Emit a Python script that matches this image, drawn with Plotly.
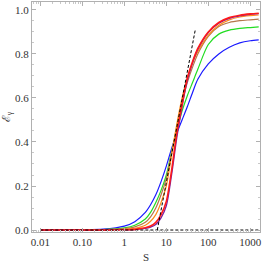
import plotly.graph_objects as go

S = [0.01, 0.0316, 0.1, 0.316, 1, 1.778, 3.162, 4.217, 5.623, 7.499, 10, 13.34,
     17.78, 23.71, 31.62, 42.17, 56.23, 100, 177.8, 316.2, 562.3, 1000, 1585]

blue = [0.000, 0.000, 0.001, 0.004, 0.018, 0.038, 0.080, 0.115, 0.160, 0.220, 0.290, 0.370,
        0.440, 0.500, 0.560, 0.625, 0.685, 0.755, 0.800, 0.830, 0.850, 0.860, 0.864]
green = [0.000, 0.000, 0.0005, 0.002, 0.010, 0.022, 0.050, 0.080, 0.125, 0.180, 0.250, 0.355,
         0.450, 0.540, 0.610, 0.670, 0.730, 0.843, 0.890, 0.908, 0.916, 0.920, 0.923]
brown = [0.000, 0.000, 0.000, 0.001, 0.006, 0.014, 0.035, 0.060, 0.100, 0.160, 0.235, 0.350,
         0.470, 0.580, 0.670, 0.740, 0.800, 0.880, 0.925, 0.943, 0.951, 0.955, 0.958]
orange = [0.000, 0.000, 0.000, 0.0005, 0.003, 0.008, 0.022, 0.040, 0.070, 0.125, 0.200, 0.340,
          0.480, 0.600, 0.690, 0.760, 0.810, 0.885, 0.930, 0.955, 0.968, 0.974, 0.977]
purple = [0.000, 0.000, 0.000, 0.000, 0.001, 0.002, 0.007, 0.013, 0.025, 0.055, 0.110, 0.250,
          0.420, 0.560, 0.680, 0.760, 0.820, 0.897, 0.940, 0.962, 0.973, 0.980, 0.983]
red = [0.000, 0.000, 0.000, 0.000, 0.001, 0.003, 0.010, 0.018, 0.035, 0.070, 0.130, 0.270,
       0.440, 0.570, 0.690, 0.765, 0.825, 0.900, 0.943, 0.965, 0.976, 0.982, 0.985]

tangent_S = [6.1, 49]
tangent_E = [0.0, 0.91]
base_S = [0.01, 1585]
base_E = [0.0, 0.0]

x_tickvals = [0.01, 0.1, 1, 10, 100, 1000]
x_ticktext = ["0.01", "0.10", "1", "10", "100", "1000"]
y_tickvals = [0.0, 0.2, 0.4, 0.6, 0.8, 1.0]
y_ticktext = ["0.0", "0.2", "0.4", "0.6", "0.8", "1.0"]

series = [
    (blue, "#1a1aff", 1.2),
    (green, "#22dd22", 1.2),
    (brown, "#b5764a", 1.2),
    (orange, "#ff8c1a", 1.2),
    (purple, "#7a1fa0", 1.3),
    (red, "#ff1a1a", 1.6),
]

fig = go.Figure()
for ys, col, w in series:
    fig.add_trace(go.Scatter(x=S, y=ys, mode="lines", line=dict(color=col, width=w, shape="spline", smoothing=0.8),
                             showlegend=False, hoverinfo="skip"))
fig.add_trace(go.Scatter(x=base_S, y=base_E, mode="lines",
                         line=dict(color="black", width=1, dash="3px,2px"), showlegend=False))
fig.add_trace(go.Scatter(x=tangent_S, y=tangent_E, mode="lines",
                         line=dict(color="black", width=1, dash="3px,2px"), showlegend=False))

font = dict(family="Liberation Serif", size=11, color="#333333")
fig.update_layout(
    width=264, height=264,
    margin=dict(l=32, r=4, t=2, b=32),
    paper_bgcolor="white", plot_bgcolor="white",
    font=font,
    xaxis=dict(type="log", range=[-2.198, 3.231], tickvals=x_tickvals, ticktext=x_ticktext,
               showgrid=False, zeroline=False, showline=True, linecolor="#b0b0b0", linewidth=1,
               mirror="allticks", ticks="inside", ticklen=4, tickcolor="#b0b0b0",
               minor=dict(ticks="inside", ticklen=2, tickcolor="#c8c8c8", dtick="D1", showgrid=False),
               title=dict(text="S", font=font, standoff=6), tickfont=font),
    yaxis=dict(range=[-0.009, 1.036], tickvals=y_tickvals, ticktext=y_ticktext,
               showgrid=False, zeroline=False, showline=True, linecolor="#b0b0b0", linewidth=1,
               mirror="allticks", ticks="inside", ticklen=4, tickcolor="#b0b0b0",
               minor=dict(ticks="inside", ticklen=2, tickcolor="#c8c8c8", dtick=0.05, showgrid=False),
               title=dict(text="ℰ<sub>γ</sub>", font=font, standoff=2), tickfont=font),
)
fig.write_html("out.html", config={"displayModeBar": False},
               post_script="document.body.style.margin='0';document.body.style.padding='0';")
